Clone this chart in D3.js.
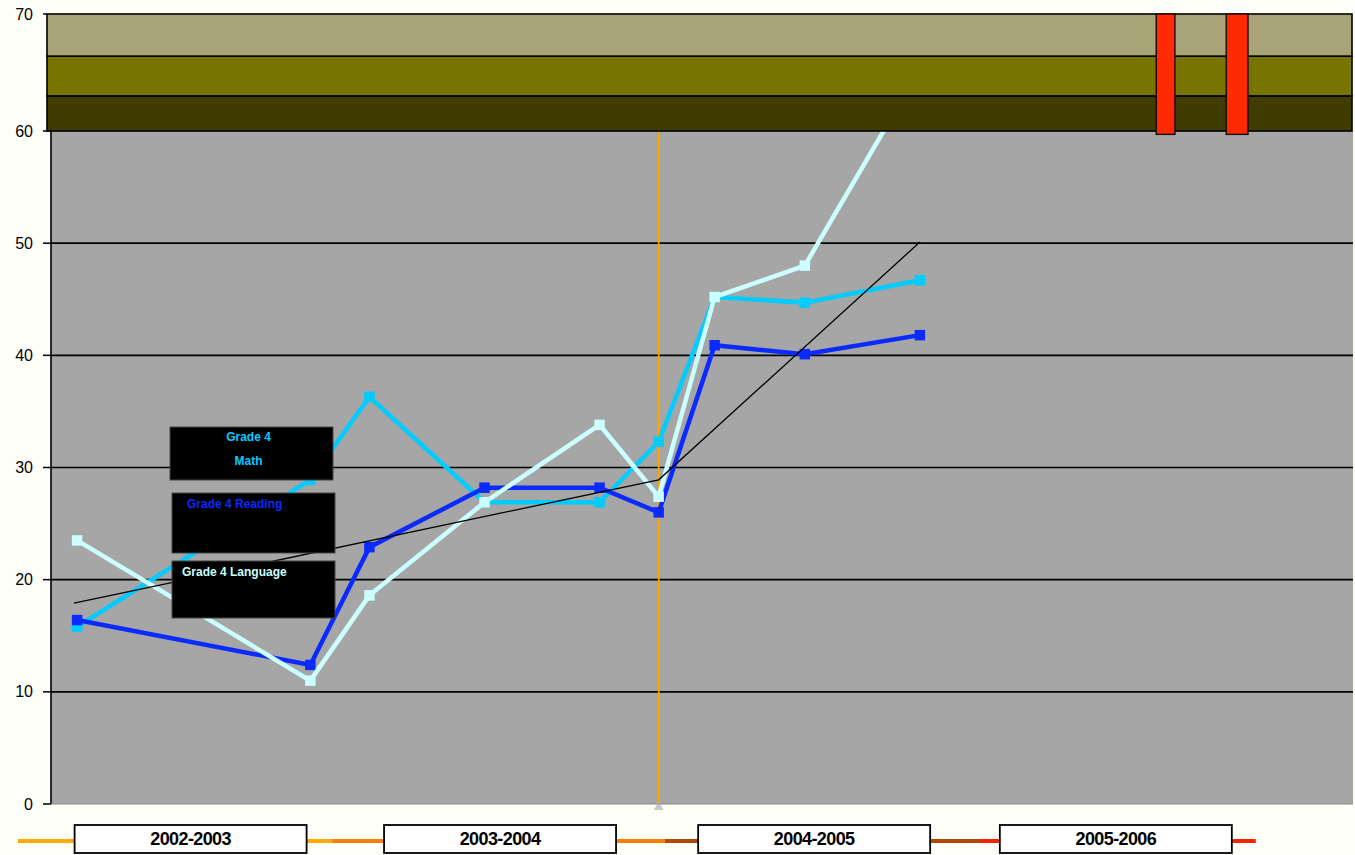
<!DOCTYPE html>
<html>
<head>
<meta charset="utf-8">
<script src="https://cdn.jsdelivr.net/npm/d3@7/dist/d3.min.js"></script>
<style>
  html, body { margin: 0; padding: 0; background: #fffffa; }
  svg { display: block; }
</style>
</head>
<body>
<svg id="chart" width="1355" height="855"></svg>
<script>
// ---------------- DATA ----------------
const categories = ['2002-2003', '2003-2004', '2004-2005', '2005-2006'];
const categoryCenters = [0.555, 1.55, 2.56, 3.53];          // school-year units
const periodBreaks = [0, 1.01, 2.08, 3.09, 3.98];
const xPositions = [0.19, 0.94, 1.13, 1.5, 1.87, 2.06, 2.24, 2.53, 2.9];
const mathValues = [15.8, 28.9, 36.3, 26.9, 26.9, 32.3, 45.2, 44.7, 46.7];
const readingValues = [16.4, 12.4, 22.9, 28.2, 28.2, 26.0, 40.9, 40.1, 41.8];
const languageValues = [23.5, 11.0, 18.6, 26.9, 33.8, 27.4, 45.2, 48.0, 65.3];
const trendX = [0.18, 2.06, 2.9];
const trendValues = [17.9, 28.9, 50.1];
const yTicks = [0, 10, 20, 30, 40, 50, 60, 70];
const bandLimits = [60, 63, 66.4, 70];
const redBars = [[3.66, 3.72], [3.885, 3.955]];
const redBarBottom = 59.7;
const markerLineX = 2.06;
const seriesNames = [['Grade 4', 'Math'], ['Grade 4 Reading'], ['Grade 4 Language']];

// ---------------- STYLE ----------------
const periodColors = ['#ffaa00', '#ff8000', '#b04a00', '#ff2200'];
const bandColors = ['#403c00', '#787400', '#a8a478'];
const seriesColors = ['#00ccff', '#0a2aff', '#ccffff'];

const svg = d3.select('#chart');
const plotLeft = 51, plotRight = 1353;

const x = d3.scaleLinear().domain([0, 4]).range([18, 1262]);
const y = d3.scaleLinear().domain([0, 60, 70]).range([804, 131, 14]);

// gray plot area
svg.append('rect')
  .attr('x', plotLeft).attr('y', y(60))
  .attr('width', plotRight - plotLeft).attr('height', y(0) - y(60))
  .attr('fill', '#a6a6a6');

// gridlines
svg.append('g').selectAll('line')
  .data(yTicks.filter(t => t > 0 && t < 60))
  .join('line')
  .attr('x1', plotLeft).attr('x2', plotRight)
  .attr('y1', d => y(d)).attr('y2', d => y(d))
  .attr('stroke', '#000').attr('stroke-width', 1.6);

// orange vertical line
svg.append('line')
  .attr('x1', x(markerLineX)).attr('x2', x(markerLineX))
  .attr('y1', y(60)).attr('y2', y(0))
  .attr('stroke', '#ffa500').attr('stroke-width', 1.6);
svg.append('path')
  .attr('d', `M${x(markerLineX)},${y(0) - 2} l-5,8 l10,0 z`)
  .attr('fill', '#c8c8c8');

// series lines
const line = d3.line().x(d => x(d[0])).y(d => y(d[1]));
const seriesValues = [mathValues, readingValues, languageValues];
seriesValues.forEach((vals, i) => {
  const pts = xPositions.map((px, j) => [px, vals[j]]);
  svg.append('path')
    .datum(pts)
    .attr('d', line)
    .attr('fill', 'none')
    .attr('stroke', seriesColors[i])
    .attr('stroke-width', 4.5)
    .attr('stroke-linejoin', 'miter');
  svg.append('g').selectAll('path')
    .data(pts.filter(p => p[1] <= 60))
    .join('path')
    .attr('transform', p => `translate(${x(p[0])},${y(p[1])})`)
    .attr('d', d3.symbol(d3.symbolSquare, 110))
    .attr('fill', seriesColors[i]);
});

// trend line
svg.append('path')
  .datum(trendX.map((t, i) => [t, trendValues[i]]))
  .attr('d', line)
  .attr('fill', 'none')
  .attr('stroke', '#000')
  .attr('stroke-width', 1.3);

// top bands
const bandG = svg.append('g');
for (let i = 0; i < bandColors.length; i++) {
  bandG.append('rect')
    .attr('x', 47).attr('y', y(bandLimits[i + 1]))
    .attr('width', 1352 - 47)
    .attr('height', y(bandLimits[i]) - y(bandLimits[i + 1]))
    .attr('fill', bandColors[i])
    .attr('stroke', '#000').attr('stroke-width', 1.6);
}

// red bars
svg.append('g').selectAll('rect')
  .data(redBars)
  .join('rect')
  .attr('x', d => x(d[0])).attr('y', y(70))
  .attr('width', d => x(d[1]) - x(d[0]))
  .attr('height', y(redBarBottom) - y(70))
  .attr('fill', '#ff2a00')
  .attr('stroke', '#1a0a00').attr('stroke-width', 1.4);

// y axis
svg.append('line')
  .attr('x1', plotLeft).attr('x2', plotLeft)
  .attr('y1', y(60)).attr('y2', y(0))
  .attr('stroke', '#000').attr('stroke-width', 1.6);
svg.append('line')
  .attr('x1', plotLeft).attr('x2', plotRight)
  .attr('y1', y(0)).attr('y2', y(0))
  .attr('stroke', '#888').attr('stroke-width', 1);
const yAxis = svg.append('g');
yAxis.selectAll('line')
  .data(yTicks).join('line')
  .attr('x1', 43).attr('x2', d => d === 70 ? 47 : plotLeft)
  .attr('y1', d => y(d)).attr('y2', d => y(d))
  .attr('stroke', '#000').attr('stroke-width', 1.5);
yAxis.selectAll('text')
  .data(yTicks).join('text')
  .attr('x', 33).attr('y', d => y(d))
  .attr('dy', '0.35em')
  .attr('text-anchor', 'end')
  .attr('font-family', 'Liberation Sans, Arial, sans-serif')
  .attr('font-size', 16)
  .attr('fill', '#000')
  .text(d => d);

// bottom timeline
const timelineY = 841;
svg.append('g').selectAll('line')
  .data(periodColors)
  .join('line')
  .attr('x1', (d, i) => x(periodBreaks[i]))
  .attr('x2', (d, i) => x(periodBreaks[i + 1]))
  .attr('y1', timelineY).attr('y2', timelineY)
  .attr('stroke', d => d).attr('stroke-width', 4);

const boxW = 232, boxH = 28;
const catG = svg.append('g').selectAll('g')
  .data(categories).join('g')
  .attr('transform', (d, i) => `translate(${x(categoryCenters[i])},${825})`);
catG.append('rect')
  .attr('x', -boxW / 2).attr('y', 0)
  .attr('width', boxW).attr('height', boxH)
  .attr('fill', '#fff').attr('stroke', '#000').attr('stroke-width', 1.8);
catG.append('text')
  .attr('x', 0).attr('y', boxH / 2).attr('dy', '0.36em')
  .attr('text-anchor', 'middle')
  .attr('font-family', 'Liberation Sans, Arial, sans-serif')
  .attr('font-weight', 'bold')
  .attr('font-size', 18)
  .attr('letter-spacing', -0.6)
  .attr('fill', '#000')
  .text(d => d);

// legend boxes
const legendBoxes = [
  { x: 170, y: 427, w: 163, h: 53 },
  { x: 172, y: 493, w: 163, h: 60 },
  { x: 172, y: 561, w: 163, h: 57 }
];
const legendG = svg.append('g');
legendBoxes.forEach((b, i) => {
  legendG.append('rect')
    .attr('x', b.x).attr('y', b.y).attr('width', b.w).attr('height', b.h)
    .attr('fill', '#000').attr('stroke', '#444').attr('stroke-width', 1);
  const t = legendG.append('text')
    .attr('font-family', 'Liberation Sans, Arial, sans-serif')
    .attr('font-weight', 'bold')
    .attr('font-size', 12)
    .attr('fill', seriesColors[i]);
  if (i === 0) {
    t.attr('text-anchor', 'middle');
    seriesNames[i].forEach((s, k) => {
      t.append('tspan').attr('x', b.x + b.w / 2 - 3).attr('y', b.y + 14 + k * 24).text(s);
    });
  } else {
    t.attr('x', b.x + (i === 1 ? 15 : 10)).attr('y', b.y + 15).text(seriesNames[i][0]);
  }
});
</script>
</body>
</html>
